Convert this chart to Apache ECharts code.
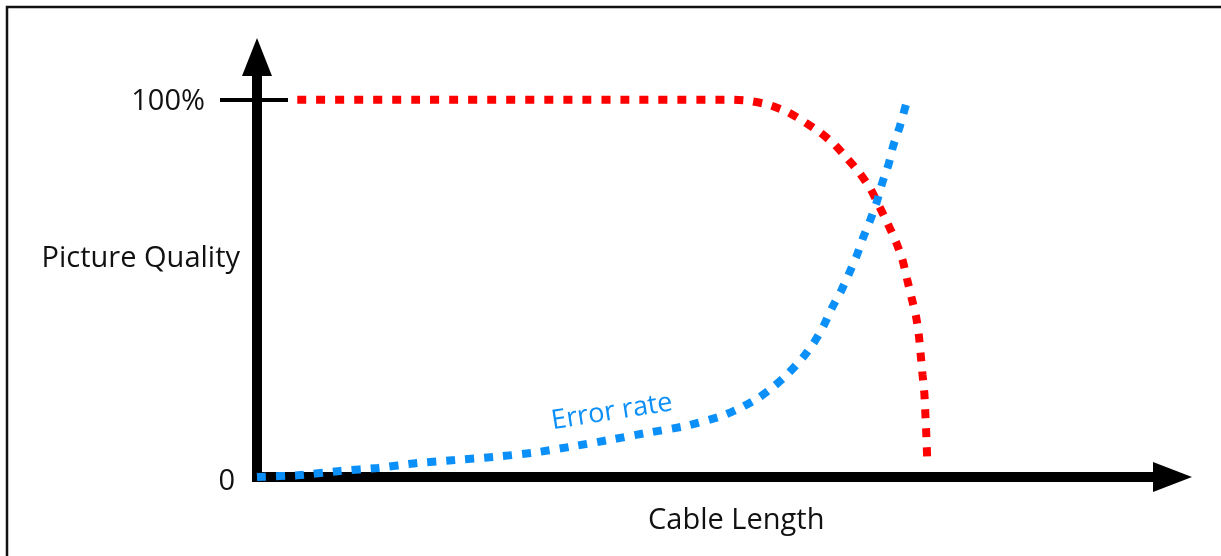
<!DOCTYPE html>
<html>
<head>
<meta charset="utf-8">
<script src="https://cdn.jsdelivr.net/npm/echarts@6/dist/echarts.min.js"></script>
<style>
  html, body { margin: 0; padding: 0; background: #fff; }
  #chart { width: 1221px; height: 556px; }
</style>
</head>
<body>
<div id="chart"></div>
<script>
// picture quality (red) - flat, then falls off
const qualityX = [4.4, 51.7, 53.7, 55.8, 57.9, 59.6, 61.4, 63.0, 64.4, 65.8, 67.0, 68.0, 68.9, 69.8, 70.5, 71.0, 71.5, 72.0, 72.3, 72.5, 72.7, 72.9, 73.0, 73.1, 73.2]
const qualityY = [100, 100, 99.7, 98.7, 96.8, 94.4, 91.5, 88.3, 84.6, 80.6, 76.4, 71.6, 67.1, 62.3, 57.6, 52.5, 47.5, 42.4, 37.4, 32.3, 27.0, 22.0, 16.9, 11.7, 5.3]

// error rate (blue) - slow rise, then steep
const errorX = [0, 4.7, 9.1, 13.2, 17.5, 21.6, 25.8, 30.1, 34.2, 38.4, 42.6, 46.8, 50.8, 52.8, 54.8, 56.4, 57.9, 59.6, 60.8, 61.9, 62.8, 63.8, 64.7, 65.5, 66.2, 67.0, 67.7, 68.3, 69.0, 69.5, 70.2, 71.0]
const errorY = [0, 0.5, 1.6, 2.4, 3.7, 4.5, 5.3, 6.4, 8.0, 9.8, 11.7, 13.5, 16.2, 18.3, 21.0, 23.9, 27.1, 31.6, 35.5, 40.1, 44.8, 49.3, 54.1, 58.6, 63.4, 68.2, 72.9, 78.0, 83.0, 87.8, 92.8, 99.7]

const yTicks = [0, 100]
const yTickLabels = {0: '0', 100: '100%'}

const FONT = '"Open Sans", sans-serif'
const FS = 29

const chart = echarts.init(document.getElementById('chart'))

const pairs = (xs, ys) => xs.map((x, i) => [x, ys[i]])

const option = {
    backgroundColor: '#fff',
    animation: false,
    grid: { left: 257, right: 48.5, top: 57, bottom: 79, containLabel: false, outerBoundsMode: 'none' },
    graphic: [
        {
            type: 'rect',
            shape: { x: 7, y: 7, width: 1300, height: 700 },
            style: { fill: 'none', stroke: '#111', lineWidth: 2.5 },
            silent: true
        },
        {
            type: 'text',
            x: 612, y: 412,
            rotation: 9 * Math.PI / 180,
            style: {
                text: 'Error rate',
                font: '27px ' + FONT,
                fill: '#0b8ff8',
                textAlign: 'center',
                textVerticalAlign: 'middle'
            },
            z: 100
        }
    ],
    xAxis: {
        type: 'value',
        min: 0,
        max: 100,
        name: 'Cable Length',
        nameLocation: 'middle',
        nameGap: 29,
        nameMoveOverlap: false,
        nameTextStyle: {
            fontFamily: FONT, fontSize: FS, color: '#111',
            padding: [0, 0, 0, 43]
        },
        axisLine: {
            show: true,
            symbol: ['none', 'triangle'],
            symbolSize: [30, 39],
            lineStyle: { color: '#000', width: 10, cap: 'square' }
        },
        axisTick: { show: false },
        axisLabel: { show: false },
        splitLine: { show: false }
    },
    yAxis: [
        {
            type: 'value',
            min: 0,
            max: 111.3,
            name: '{n|Picture Quality}',
            nameLocation: 'middle',
            nameRotate: 0,
            nameGap: 17,
            nameMoveOverlap: false,
            nameTextStyle: {
                fontFamily: FONT, fontSize: FS, color: '#111',
                align: 'right', verticalAlign: 'middle',
                rich: {
                    n: { fontFamily: FONT, fontSize: FS, color: '#111', padding: [0, 0, 16, 0] }
                }
            },
            axisLine: {
                show: true,
                symbol: ['none', 'triangle'],
                symbolSize: [30, 38],
                lineStyle: { color: '#000', width: 10, cap: 'square' }
            },
            axisTick: {
                show: true,
                customValues: [100],
                length: 37,
                lineStyle: { color: '#000', width: 4 }
            },
            axisLabel: {
                customValues: yTicks,
                margin: 22,
                formatter: (v) => v === 100 ? '{p|' + yTickLabels[v] + '}' : '{z|' + yTickLabels[v] + '}',
                fontFamily: FONT,
                fontSize: FS,
                color: '#111',
                rich: {
                    p: { fontFamily: FONT, fontSize: FS, color: '#111', padding: [4, 30, 0, 0] },
                    z: { fontFamily: FONT, fontSize: FS, color: '#111', padding: [10, 0, 0, 0] }
                }
            },
            splitLine: { show: false }
        },
        {
            // inner half of the 100% tick
            type: 'value',
            position: 'left',
            min: 0,
            max: 111.3,
            axisLine: { show: false },
            axisTick: {
                show: true,
                inside: true,
                customValues: [100],
                length: 31,
                lineStyle: { color: '#000', width: 4 }
            },
            axisLabel: { show: false },
            splitLine: { show: false }
        }
    ],
    series: [
        {
            name: 'Picture Quality',
            type: 'line',
            data: pairs(qualityX, qualityY),
            showSymbol: false,
            smooth: 0.2,
            clip: false,
            z: 5,
            lineStyle: { color: '#ff0000', width: 8, type: [9, 10], cap: 'butt' }
        },
        {
            name: 'Error rate',
            type: 'line',
            data: pairs(errorX, errorY),
            showSymbol: false,
            smooth: 0.2,
            clip: false,
            z: 6,
            lineStyle: { color: '#0b8ff8', width: 8, type: [9, 10], cap: 'butt' }
        }
    ]
}

chart.setOption(option)
</script>
</body>
</html>
